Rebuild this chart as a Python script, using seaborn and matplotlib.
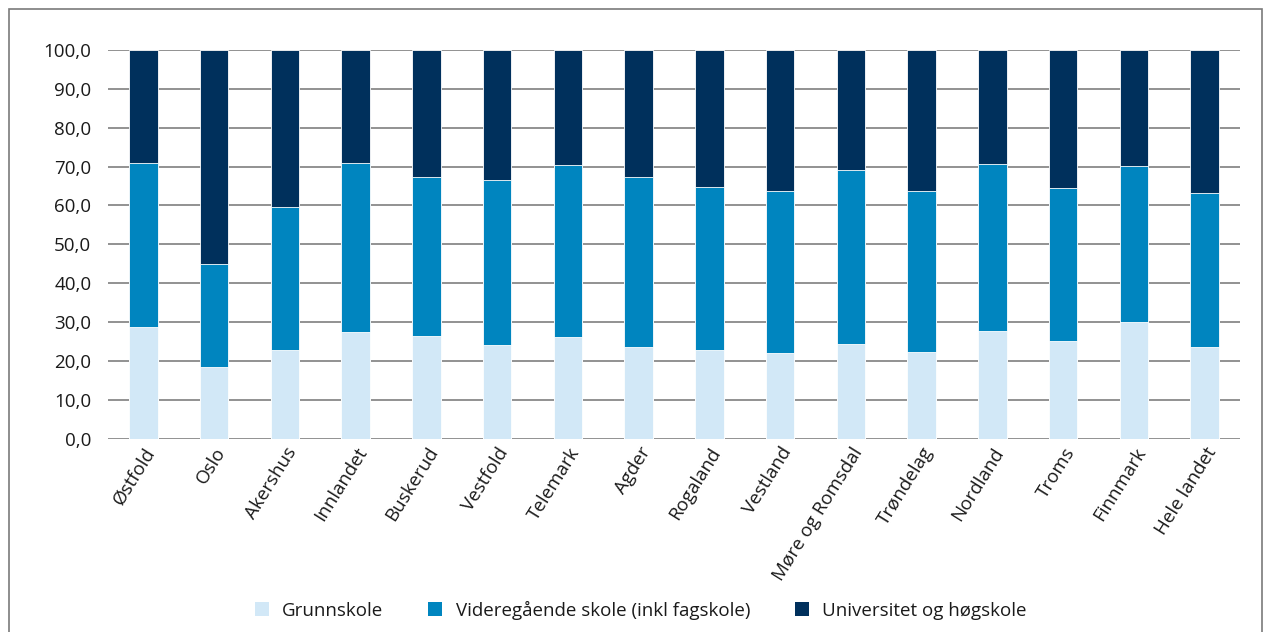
import matplotlib
matplotlib.use("Agg")
import matplotlib.pyplot as plt
from matplotlib.patches import Rectangle, Patch
import seaborn as sns
import pandas as pd
import numpy as np

fylker = ["Østfold", "Oslo", "Akershus", "Innlandet", "Buskerud", "Vestfold",
          "Telemark", "Agder", "Rogaland", "Vestland", "Møre og Romsdal",
          "Trøndelag", "Nordland", "Troms", "Finnmark", "Hele landet"]
grunnskole = [28.8, 18.5, 22.7, 27.3, 26.4, 24.1, 26.2, 23.6, 22.8, 22.1,
              24.4, 22.2, 27.6, 25.2, 29.9, 23.6]
videregaende = [42.1, 26.3, 36.9, 43.7, 41.0, 42.4, 44.2, 43.7, 41.9, 41.6,
                44.6, 41.5, 43.0, 39.2, 40.2, 39.6]
universitet = [round(100 - g - v, 1) for g, v in zip(grunnskole, videregaende)]

series = ["Grunnskole", "Videregående skole (inkl fagskole)", "Universitet og høgskole"]
colors = ["#D2E8F7", "#0085BF", "#00305C"]

df = pd.DataFrame({"fylke": fylker, "g": grunnskole, "v": videregaende, "u": universitet})
df["cum_g"] = df["g"]
df["cum_v"] = df["g"] + df["v"]
df["cum_u"] = df["g"] + df["v"] + df["u"]

sns.set_theme(style="white")
plt.rcParams["font.family"] = ["Open Sans", "DejaVu Sans"]

fig = plt.figure(figsize=(12.69, 6.32), dpi=100)
ax = fig.add_axes([108 / 1269, 1 - 438.5 / 632, (1240 - 108) / 1269, (438.5 - 50) / 632])

# stacked bars: draw cumulative totals from the top layer down
for col, c in zip(["cum_u", "cum_v", "cum_g"], colors[::-1]):
    sns.barplot(data=df, x="fylke", y=col, color=c, width=0.4, ax=ax,
                edgecolor="white", linewidth=0.6, saturation=1, zorder=3)

ax.set_ylim(0, 100)
ax.set_xlim(-0.5, len(fylker) - 0.5)
ax.set_yticks(np.arange(0, 101, 10))
ax.set_yticklabels([f"{v:.1f}".replace(".", ",") for v in np.arange(0, 101, 10)],
                   fontsize=13.5, color="#1a1a1a")
ax.yaxis.grid(True, color="#7f7f7f", linewidth=1.2, zorder=0)
ax.xaxis.grid(False)
ax.set_axisbelow(True)
for s in ax.spines.values():
    s.set_visible(False)
ax.tick_params(axis="y", length=0, pad=12)
ax.tick_params(axis="x", length=0, pad=4)
ax.set_xlabel("")
ax.set_ylabel("")
ax.set_xticks(range(len(fylker)))
ax.set_xticklabels(fylker, rotation=58, ha="right", rotation_mode="anchor",
                   fontsize=13.5, color="#1a1a1a")

handles = [Patch(facecolor=c, edgecolor="none", label=l) for c, l in zip(colors, series)]
fig.legend(handles=handles, loc="center", bbox_to_anchor=(0.505, 1 - 610 / 632),
           ncol=3, frameon=False, fontsize=13.5, handlelength=0.75, handleheight=0.75,
           handletextpad=0.7, columnspacing=2.4, labelcolor="#1a1a1a")

# outer frame
fig.add_artist(Rectangle((9 / 1269, -0.05), (1262 - 9) / 1269, 1 - 9 / 632 + 0.05,
                         transform=fig.transFigure, fill=False,
                         edgecolor="#7a7a7a", linewidth=1.2))

fig.savefig("out.png", dpi=100)
